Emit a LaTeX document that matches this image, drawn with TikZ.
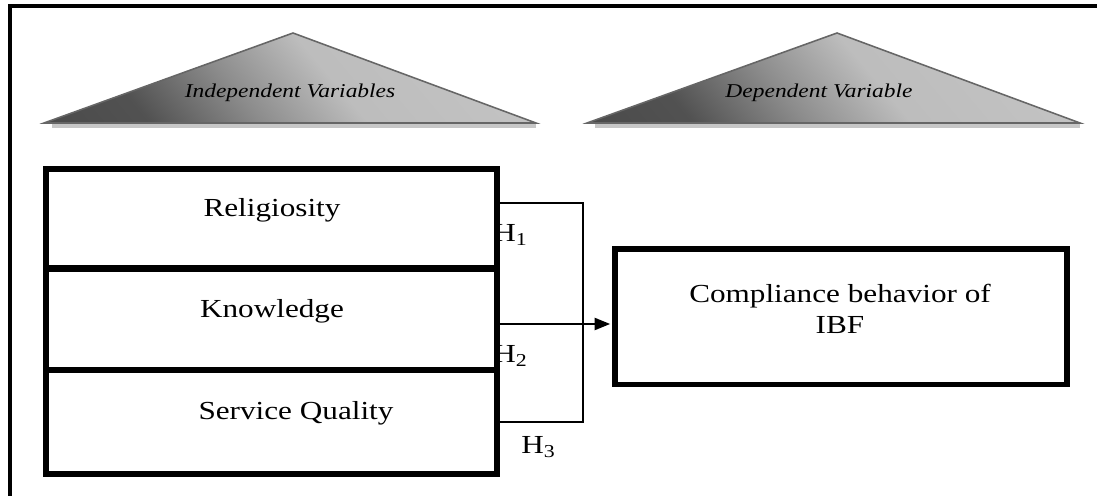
\documentclass[tikz,border=0pt]{standalone}
\usepackage{fontspec}
\setmainfont{Liberation Serif}[FakeStretch=1.2]
\usetikzlibrary{arrows.meta,calc}
\pgfdeclarehorizontalshading{trishade}{100bp}{color(0bp)=(black!74); color(28bp)=(black!68); color(42bp)=(black!45); color(55bp)=(black!26); color(100bp)=(black!21)}
\begin{document}
\begin{tikzpicture}[x=0.45pt,y=-0.45pt,
  frame/.style={line width=1.5pt},
  varbox/.style={draw,line width=2.7pt,inner sep=0pt,outer sep=0pt,minimum width=203pt},
  lbl/.style={font=\fontsize{11.7}{13.95}\selectfont,anchor=base,inner sep=0pt},
  hlbl/.style={font=\fontsize{11.7}{14}\selectfont,anchor=base west,inner sep=0pt},
  tri/.style={draw=black!60,line width=0.7pt,shading=trishade,shading angle=40},
  trishadow/.style={draw=black!22,line width=1.4pt},
  trilbl/.style={font=\fontsize{8.8}{10}\selectfont\itshape,anchor=base,inner sep=0pt},
  link/.style={line width=0.5pt},
  arr/.style={line width=0.8pt,-{Triangle[length=7pt,width=5.5pt]}}
]
\useasboundingbox (0,0) rectangle (1097,496);
% outer frame (only top and left edges visible)
\draw[frame] (10,496) -- (10,6) -- (1097,6);
% header triangles
\draw[trishadow] (52,126) -- (536,126);
\shade[tri] (44,123) -- (293,33) -- (536,123) -- cycle;
\node[trilbl] (ivlabel) at (290,98) {Independent Variables};
\draw[trishadow] (595,126) -- (1080,126);
\shade[tri] (587,123) -- (837,33) -- (1080,123) -- cycle;
\node[trilbl] (dvlabel) at (819,98) {Dependent Variable};
% hypothesis labels (partly under the box border)
\node[hlbl] (h1) at (493,242) {H\textsubscript{1}};
\node[hlbl] (h2) at (493,363) {H\textsubscript{2}};
\node[hlbl] (h3) at (521,454) {H\textsubscript{3}};
% independent variable boxes
\node[varbox,minimum height=44.8pt] (rel) at (271.5,218.75) {};
\node[varbox,minimum height=45.7pt] (know) at (271.5,319.25) {};
\node[varbox,minimum height=46.8pt] (serv) at (271.5,422) {};
\node[lbl] (reltext) at (272,217) {Religiosity};
\node[lbl] (knowtext) at (272,318) {Knowledge};
\node[lbl] (servtext) at (296,420) {Service Quality};
% dependent variable box
\node[draw,line width=2.5pt,inner sep=0pt,outer sep=0pt,minimum width=203.4pt,minimum height=61pt] (comp) at (841,316.75) {};
\node[lbl,align=center] (comptext) at (840,334) {Compliance behavior of\\IBF};
% connectors
\coordinate (bt) at (583,203);
\coordinate (bb) at (583,422);
\coordinate (am) at (583,324);
\draw[link] (rel.east |- bt) -- (bt) -- (bb) -- (serv.east |- bb);
\draw[arr,shorten >=2.2pt] (know.east |- am) -- (comp.west |- am);
\end{tikzpicture}
\end{document}
